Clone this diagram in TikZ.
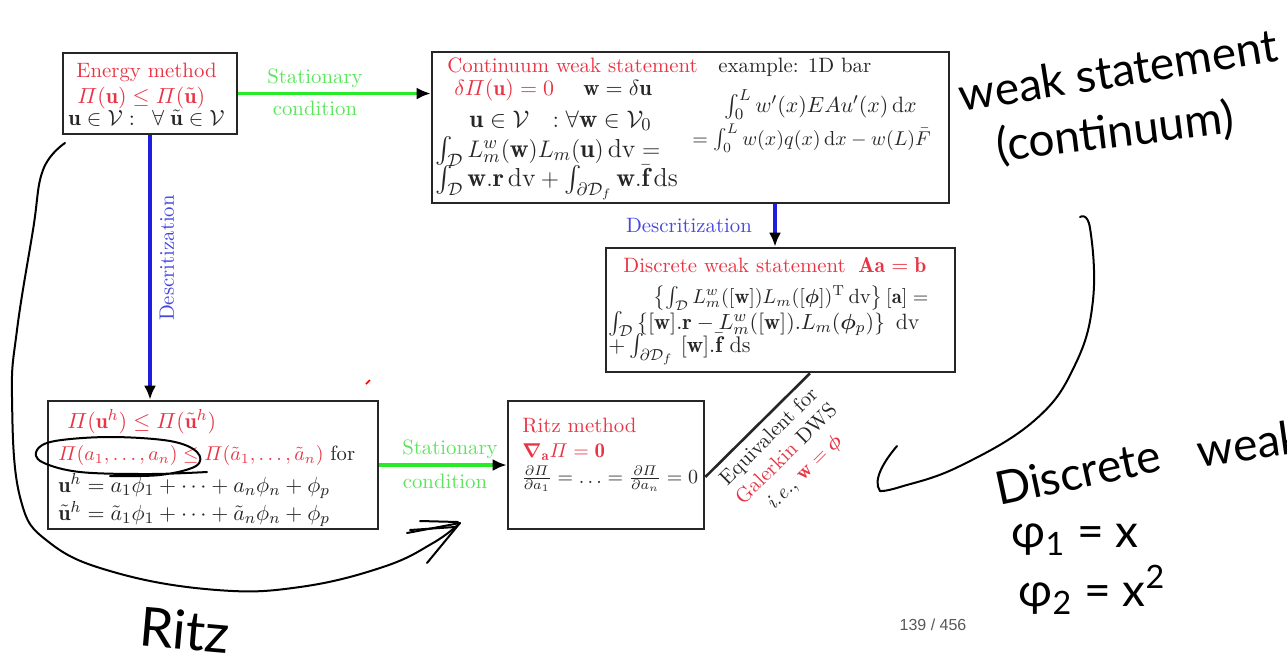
\documentclass[tikz,border=0pt]{standalone}
\usepackage{amsmath,amssymb,bm}
\usepackage{fontspec}
\usetikzlibrary{arrows.meta,fit,calc}
\newfontfamily\handfont{Lato}
\newfontfamily\pagefont{Liberation Sans}
\definecolor{tred}{RGB}{232,52,68}
\definecolor{tgreen}{RGB}{40,235,40}
\definecolor{lgreen}{RGB}{90,230,90}
\definecolor{tblue}{RGB}{30,30,225}
\definecolor{lblue}{RGB}{70,70,225}
\tikzset{
  box/.style={draw=black!85, line width=1.3pt, inner sep=0pt},
  txt/.style={anchor=base west, inner sep=0pt, text=black!85, font=\fontsize{10.4}{12.5}\selectfont},
  fs/.style={font=\fontsize{#1}{#1}\selectfont},
  lbl/.style={inner sep=1pt, font=\fontsize{10.4}{12.5}\selectfont},
  garrow/.style={draw=tgreen, line width=1.6pt, -{Latex[length=7pt,width=6pt,black]}},
  barrow/.style={draw=tblue, line width=1.6pt, -{Latex[length=7pt,width=6pt,black]}},
  hand/.style={line width=1pt, line cap=round, line join=round},
  htext/.style={inner sep=0pt, font=\handfont\fontsize{23}{25}\selectfont}
}
\begin{document}
\begin{tikzpicture}[x=0.5pt,y=-0.5pt]
\useasboundingbox (0,0) rectangle (1287,666);
% boxes
\node[box, fit={(63,53) (237,134)}] (b1) {};
\node[box, fit={(432,52) (949,203)}] (b2) {};
\node[box, fit={(606,248) (955,372)}] (b3) {};
\node[box, fit={(48,401) (378,529)}] (b4) {};
\node[box, fit={(508,401) (704,529)}] (b5) {};
% box 1
\node[txt, text=tred] (t11) at (76,77) {Energy method};
\node[txt, text=tred, fs=11] (t12) at (77,103) {$\varPi(\mathbf{u}) \le \varPi(\tilde{\mathbf{u}})$};
\node[txt, fs=11.2] (t13) at (68,125) {$\mathbf{u}\in\mathcal{V}:\ \,\forall\;\tilde{\mathbf{u}}\in\mathcal{V}$};
% box 2
\node[txt, text=tred] (t21) at (447,72) {Continuum weak statement};
\node[txt, text=tred, fs=10.8] (t22) at (454,95) {$\delta\varPi(\mathbf{u})=0$};
\node[txt, fs=11.2] (t23) at (583,95) {$\mathbf{w}=\delta\mathbf{u}$};
\node[txt, fs=12.6] (t24) at (469,127) {$\mathbf{u}\in\mathcal{V}\ \ :\forall\mathbf{w}\in\mathcal{V}_0$};
\node[txt, fs=13] (t25) at (435,157) {$\int_{\mathcal{D}} L_m^w(\mathbf{w})L_m(\mathbf{u})\,\mathrm{dv} =$};
\node[txt, fs=13] (t26) at (435,186) {$\int_{\mathcal{D}} \mathbf{w}.\mathbf{r}\,\mathrm{dv} + \int_{\partial\mathcal{D}_f}\mathbf{w}.\bar{\mathbf{f}}\,\mathrm{ds}$};
\node[txt] (t27) at (718,72) {example: 1D bar};
\node[txt, fs=11.1] (t28) at (724,112) {$\int_0^L w'(x)EAu'(x)\,\mathrm{d}x$};
\node[txt, fs=10.1] (t29) at (692,145) {$= \int_0^L w(x)q(x)\,\mathrm{d}x - w(L)\bar{F}$};
% box 3
\node[txt, text=tred] (t31) at (623,272) {Discrete weak statement};
\node[txt, text=tred, fs=10.8] (t32) at (858,272) {$\mathbf{Aa}=\mathbf{b}$};
\node[txt, fs=10.3] (t33) at (653,303) {$\left\{\int_{\mathcal{D}} L_m^w([\mathbf{w}])L_m([\bm{\phi}])^{\mathrm{T}}\,\mathrm{dv}\right\}[\mathbf{a}] =$};
\node[txt, fs=11.1] (t34) at (608,329) {$\int_{\mathcal{D}}\left\{[\mathbf{w}].\mathbf{r} - L_m^w([\mathbf{w}]).L_m(\bm{\phi}_p)\right\}\ \mathrm{dv}$};
\node[txt, fs=11.3] (t35) at (608,352) {$+\int_{\partial\mathcal{D}_f}\ [\mathbf{w}].\bar{\mathbf{f}}\ \mathrm{ds}$};
% box 4
\node[txt, text=tred, fs=10.8] (t41) at (67,428) {$\varPi(\mathbf{u}^h)\le\varPi(\tilde{\mathbf{u}}^h)$};
\node[txt, fs=10.3] (t42) at (58,460) {\textcolor{tred}{$\varPi(a_1,\ldots,a_n)\le\varPi(\tilde a_1,\ldots,\tilde a_n)$} for};
\node[txt, fs=11] (t43) at (58,492) {$\mathbf{u}^h = a_1\phi_1+\cdots+a_n\phi_n+\phi_p$};
\node[txt, fs=11] (t44) at (58,520) {$\tilde{\mathbf{u}}^h = \tilde a_1\phi_1+\cdots+\tilde a_n\phi_n+\phi_p$};
% box 5
\node[txt, text=tred] (t51) at (522,432) {Ritz method};
\node[txt, text=tred] (t52) at (522,457) {$\bm{\nabla}_{\mathbf{a}}\varPi=\mathbf{0}$};
\node[txt] (t53) at (521,483) {$\frac{\partial\varPi}{\partial a_1}=\ldots=\frac{\partial\varPi}{\partial a_n}=0$};
% connectors
\draw[garrow] (b1.east) -- (b1.east -| b2.west);
\node[lbl, text=lgreen] (s1) at (315,78) {Stationary};
\node[lbl, text=lgreen] (c1) at (315,108) {condition};
\draw[barrow] (b1.south) -- (b1.south |- b4.north);
\node[lbl, text=lblue, rotate=90] (d1) at (167,258) {Descritization};
\coordinate (x3) at (775,0);
\draw[barrow] (b2.south -| x3) -- (b3.north -| x3);
\node[lbl, text=lblue] (d2) at (689,226) {Descritization};
\draw[garrow] (b4.east) -- (b5.west);
\node[lbl, text=lgreen] (s2) at (450,449) {Stationary};
\node[lbl, text=lgreen] (c2) at (445,481) {condition};
\coordinate (e5) at ($(b5.east)+(0,12)$);
\coordinate (x6) at (810,0);
\draw[line width=1.3pt, black!85] (e5) -- (b3.south -| x6)
  node[lbl, midway, sloped, below=2pt, align=center, text=black!85] (eq)
  {Equivalent for\\ \textcolor{tred}{Galerkin} DWS\\ \textit{i.e.}, \textcolor{tred}{$\mathbf{w}=\bm{\phi}$}};
% page number
\node[inner sep=0pt, font=\pagefont\fontsize{8}{9}\selectfont, text=black!65] (pg) at (933,625) {139 / 456};
% handwritten annotations
\node[htext, rotate=9] (h1) at (1118,70) {weak statement};
\node[htext, rotate=7] (h2) at (1115,133) {(continuum)};
\node[htext, rotate=12] (h3) at (1078,472) {Discrete};
\node[htext, rotate=8] (h4) at (1250,443) {weak};
\node[htext] (h5) at (1075,540) {φ\textsubscript{1} = x};
\node[htext] (h6) at (1092,590) {φ\textsubscript{2} = x\textsuperscript{2}};
\node[htext, font=\handfont\fontsize{27}{29}\selectfont, rotate=-5] (h7) at (185,630) {Ritz};
\draw[hand] plot[smooth, tension=0.7] coordinates {(65,143) (43,170) (33,230) (17,330) (12,397) (20,497) (50,543) (117,573) (217,590) (300,587) (383,567) (433,543) (460,523)};
\draw[hand] (407,533) -- (460,523) -- (427,563);
\draw[hand] (420,521) -- (458,522);
\draw[hand] (410,530) -- (455,527);
\draw[hand] plot[smooth, tension=0.6] coordinates {(207,472) (150,474) (80,472) (42,462) (37,450) (55,441) (110,437) (170,441) (197,452) (196,466) (160,475) (110,476)};
\draw[hand] plot[smooth, tension=0.7] coordinates {(1080,217) (1090,228) (1093,300) (1075,365) (1035,420) (960,466) (900,487) (880,491)};
\draw[hand] (880,491) .. controls (872,480) and (885,460) .. (897,446);
\draw[red, line width=0.8pt] (366,384) -- (370,380);
\end{tikzpicture}
\end{document}
